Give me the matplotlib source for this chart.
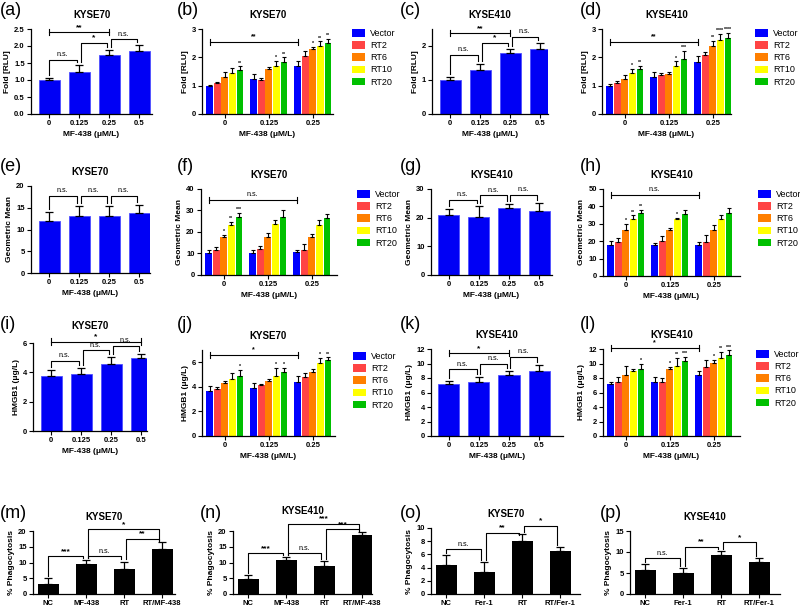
import numpy as np
import matplotlib
matplotlib.use('Agg')
import matplotlib.pyplot as plt
from matplotlib.patches import Patch

plt.rcParams['font.family'] = ['Liberation Sans', 'DejaVu Sans']
plt.rcParams['axes.linewidth'] = 0.9

# ---------------- data ----------------
doses4 = ['0', '0.125', '0.25', '0.5']
doses3 = ['0', '0.125', '0.25']
series = ['Vector', 'RT2', 'RT6', 'RT10', 'RT20']
series_colors = ['#0000FF', '#FF4444', '#FF7F00', '#FFFF00', '#00C000']
bar_blue = '#0000F5'

# single-series panels
a_mean = [1.00, 1.25, 1.75, 1.84]; a_err = [0.07, 0.18, 0.12, 0.19]
c_mean = [1.01, 1.28, 1.79, 1.91]; c_err = [0.09, 0.18, 0.13, 0.17]
e_mean = [11.9, 13.0, 13.2, 13.9]; e_err = [2.1, 2.3, 2.1, 1.7]
g_mean = [21.0, 20.4, 23.3, 22.4]; g_err = [2.1, 3.5, 1.3, 2.6]
i_mean = [3.75, 3.90, 4.60, 4.95]; i_err = [0.42, 0.42, 0.46, 0.32]
k_mean = [7.15, 7.50, 8.45, 8.90]; k_err = [0.45, 0.70, 0.55, 0.85]

# multi-series panels: rows = series (Vector, RT2, RT6, RT10, RT20), cols = doses
b_mean = [[1.00, 1.24, 1.70], [1.08, 1.20, 2.03], [1.30, 1.60, 2.29], [1.44, 1.71, 2.41], [1.56, 1.84, 2.49]]
b_err = [[0.04, 0.18, 0.16], [0.05, 0.06, 0.20], [0.20, 0.05, 0.08], [0.20, 0.17, 0.15], [0.12, 0.16, 0.15]]
b_sig = [['', '', ''], ['', '', ''], ['', '', '*'], ['', '*', '**'], ['**', '**', '**']]

d_mean = [[1.00, 1.29, 1.85], [1.09, 1.38, 2.07], [1.24, 1.41, 2.40], [1.44, 1.71, 2.61], [1.60, 1.95, 2.67]]
d_err = [[0.07, 0.18, 0.18], [0.08, 0.08, 0.13], [0.13, 0.09, 0.18], [0.15, 0.15, 0.22], [0.09, 0.27, 0.20]]
d_sig = [['', '', ''], ['', '', ''], ['', '', '**'], ['*', '*', '****'], ['**', '***', '****']]

f_mean = [[10.3, 10.3, 10.6], [11.8, 12.2, 11.8], [17.5, 17.5, 17.5], [23.4, 23.8, 23.4], [27.2, 27.2, 26.6]]
f_err = [[1.5, 1.5, 1.0], [1.0, 1.5, 2.5], [1.0, 2.0, 1.8], [1.2, 1.6, 2.3], [1.6, 3.0, 1.6]]
f_sig = [['', '', ''], ['', '', ''], ['*', '', ''], ['**', '', ''], ['***', '', '']]

h_mean = [[18.1, 17.7, 17.7], [19.6, 20.0, 19.6], [26.3, 26.3, 26.7], [32.5, 33.0, 32.5], [36.3, 35.4, 36.0]]
h_err = [[1.8, 1.0, 2.0], [2.3, 3.0, 4.0], [3.5, 1.5, 2.5], [2.3, 0.5, 2.3], [1.8, 2.5, 2.8]]
h_sig = [['', '', ''], ['', '', ''], ['*', '', ''], ['**', '*', ''], ['**', '', '']]

j_mean = [[3.70, 3.90, 4.42], [3.83, 4.18, 4.83], [4.30, 4.50, 5.23], [4.64, 4.90, 5.98], [4.85, 5.17, 6.19]]
j_err = [[0.40, 0.40, 0.50], [0.15, 0.05, 0.30], [0.20, 0.10, 0.20], [0.50, 0.65, 0.35], [0.55, 0.35, 0.20]]
j_sig = [['', '', ''], ['', '', ''], ['', '', ''], ['', '*', '*'], ['*', '*', '**']]

l_mean = [[7.15, 7.50, 8.43], [7.50, 7.50, 9.45], [8.43, 9.26, 10.1], [8.90, 9.72, 10.7], [9.20, 10.37, 11.2]]
l_err = [[0.35, 0.70, 0.50], [0.60, 0.50, 1.10], [1.20, 0.30, 0.40], [0.30, 1.00, 0.90], [0.80, 0.50, 0.60]]
l_sig = [['', '', ''], ['', '', ''], ['', '*', '*'], ['', '**', '**'], ['*', '***', '***']]

# phagocytosis panels
mn_groups = ['NC', 'MF-438', 'RT', 'RT/MF-438']
op_groups = ['NC', 'Fer-1', 'RT', 'RT/Fer-1']
m_mean = [3.3, 9.4, 7.8, 14.3]; m_err = [1.8, 1.3, 2.5, 2.2]
n_mean = [4.8, 10.8, 8.8, 18.6]; n_err = [1.2, 0.9, 1.6, 1.1]
o_mean = [4.4, 3.3, 8.1, 6.5]; o_err = [1.5, 1.5, 1.0, 0.6]
p_mean = [5.7, 5.0, 9.3, 7.6]; p_err = [1.5, 1.2, 0.9, 1.0]

# significance brackets: (i, j, level, text, style)
a_br = [(0, 1, 1.60, 'n.s.', 'leg'), (1, 2, 2.08, '*', 'leg'), (2, 3, 2.20, 'n.s.', 'leg'), (0, 2, 2.42, '**', 'span')]
c_br = [(0, 1, 1.75, 'n.s.', 'leg'), (1, 2, 2.09, '*', 'leg'), (2, 3, 2.26, 'n.s.', 'leg'), (0, 2, 2.38, '**', 'span')]
e_br = [(0, 1, 17.8, 'n.s.', 'leg'), (1, 2, 17.8, 'n.s.', 'leg'), (2, 3, 17.8, 'n.s.', 'leg')]
g_br = [(0, 1, 26.3, 'n.s.', 'leg'), (1, 2, 27.8, 'n.s.', 'leg'), (2, 3, 28.0, 'n.s.', 'leg')]
i_br = [(0, 1, 4.8, 'n.s.', 'leg'), (1, 2, 5.5, 'n.s.', 'leg'), (2, 3, 5.8, 'n.s.', 'leg'), (0, 3, 6.1, '*', 'span')]
k_br = [(0, 1, 9.2, 'n.s.', 'leg'), (1, 2, 10.0, 'n.s.', 'leg'), (2, 3, 10.9, 'n.s.', 'leg'), (0, 2, 11.4, '*', 'span')]
b_span = (2.53, '**'); d_span = (2.53, '**'); f_span = (34.9, 'n.s.')
h_span = (46.5, 'n.s.'); j_span = (6.57, '*'); l_span = (12.2, '*')
m_br = [(0, 1, 12.0, '***', 'leg'), (1, 2, 12.0, 'n.s.', 'leg'), (2, 3, 17.5, '**', 'leg'), (1, 3, 20.5, '*', 'leg')]
n_br = [(0, 1, 13.0, '***', 'leg'), (1, 2, 13.0, 'n.s.', 'leg'), (2, 3, 20.6, '***', 'leg'), (1, 3, 22.3, '***', 'leg')]
o_br = [(0, 1, 6.8, 'n.s.', 'leg'), (1, 2, 9.3, '**', 'leg'), (2, 3, 10.3, '*', 'leg')]
p_br = [(0, 1, 8.5, 'n.s.', 'leg'), (1, 2, 11.3, '**', 'leg'), (2, 3, 12.3, '*', 'leg')]

# ---------------- figure ----------------
W, H = 800, 610
fig = plt.figure(figsize=(W / 100, H / 100), dpi=100)


def add_ax(box):
    l, t, r, b = box
    return fig.add_axes([l / W, 1 - b / H, (r - l) / W, (b - t) / H])


def style_ax(ax, ylim, yticks, ylabels, ylabel, title, xlabel=None, tpad=8):
    ax.set_ylim(*ylim)
    ax.set_yticks(yticks)
    ax.set_yticklabels(ylabels)
    for s in ('top', 'right'):
        ax.spines[s].set_visible(False)
    ax.tick_params(axis='both', length=3, width=0.8, labelsize=5.5, pad=1.5)
    for lab in ax.get_xticklabels() + ax.get_yticklabels():
        lab.set_fontweight('bold')
    ax.set_ylabel(ylabel, fontsize=6, fontweight='bold', labelpad=2)
    ax.set_title(title, fontsize=7, fontweight='bold', pad=tpad)
    if xlabel:
        ax.set_xlabel(xlabel, fontsize=6, fontweight='bold', labelpad=3)


def sig_text(ax, x, y, text, fs=6):
    if text == 'n.s.':
        ax.text(x, y, text, ha='center', va='bottom', fontsize=5.2, clip_on=False)
    else:
        ax.text(x, y, text, ha='center', va='bottom', fontsize=fs, fontweight='bold', clip_on=False)


def draw_brackets(ax, brs, means, errs, ymax):
    gap = 0.035 * ymax
    for (i, j, lev, txt, sty) in brs:
        if sty == 'span':
            cap = 0.035 * ymax
            ax.plot([i, j], [lev, lev], color='k', lw=0.8, clip_on=False)
            ax.plot([i, i], [lev - cap, lev + cap], color='k', lw=0.8, clip_on=False)
            ax.plot([j, j], [lev - cap, lev + cap], color='k', lw=0.8, clip_on=False)
            sig_text(ax, (i + j) / 2, lev + 0.01 * ymax, txt)
        else:
            x1 = i + (0.05 if i > 0 else 0.0)
            x2 = j - 0.08
            lo1 = min(means[i] + errs[i] + gap, lev - 0.03 * ymax)
            lo2 = min(means[j] + errs[j] + gap, lev - 0.03 * ymax)
            ax.plot([x1, x1, x2, x2], [lo1, lev, lev, lo2], color='k', lw=0.8, clip_on=False)
            sig_text(ax, (x1 + x2) / 2, lev + 0.02 * ymax, txt)


def single_panel(box, means, errs, ylim, yticks, ylabels, ylabel, title, brs,
                 xlabel='MF-438 (\u03bcM/L)', tpad=8):
    ax = add_ax(box)
    wpx = box[2] - box[0]
    x = np.arange(len(means))
    ax.bar(x, means, width=0.7, color=bar_blue, edgecolor='#4F4FFF', linewidth=0.6, zorder=2)
    ax.errorbar(x, means, yerr=[np.zeros(len(errs)), errs], fmt='none', ecolor='k',
                elinewidth=0.9, capsize=3, capthick=0.9, zorder=3)
    ax.set_xlim(-0.6, -0.6 + wpx / 30.0)
    ax.set_xticks(x)
    ax.set_xticklabels(doses4)
    style_ax(ax, ylim, yticks, ylabels, ylabel, title, xlabel, tpad)
    draw_brackets(ax, brs, means, errs, ylim[1])
    return ax


def multi_panel(box, means, errs, sigs, ylim, yticks, ylabels, ylabel, title, span, legend_xy,
                xlabel='MF-438 (\u03bcM/L)'):
    ax = add_ax(box)
    wpx = box[2] - box[0]
    x = np.arange(len(doses3))
    step = 0.172
    for k in range(len(series)):
        xs = x + (k - 2) * step
        ax.bar(xs, means[k], width=0.155, color=series_colors[k], zorder=2)
        ax.errorbar(xs, means[k], yerr=[np.zeros(3), errs[k]], fmt='none', ecolor='k',
                    elinewidth=0.8, capsize=1.5, capthick=0.8, zorder=3)
        for g in range(3):
            if sigs[k][g]:
                ax.text(xs[g], means[k][g] + errs[k][g] + 0.01 * ylim[1], sigs[k][g],
                        ha='center', va='bottom', fontsize=3.8, fontweight='bold', clip_on=False)
    ax.set_xlim(-0.52, -0.52 + wpx / 44.0)
    ax.set_xticks(x)
    ax.set_xticklabels(doses3)
    style_ax(ax, ylim, yticks, ylabels, ylabel, title, xlabel)
    lev, txt = span
    x1, x2 = -2 * step, 2 - 2 * step
    cap = 0.035 * ylim[1]
    ax.plot([x1, x2], [lev, lev], color='k', lw=0.8, clip_on=False)
    ax.plot([x1, x1], [lev - cap, lev + cap], color='k', lw=0.8, clip_on=False)
    ax.plot([x2, x2], [lev - cap, lev + cap], color='k', lw=0.8, clip_on=False)
    sig_text(ax, 1 - 2 * step, lev + 0.02 * ylim[1], txt, fs=5)
    handles = [Patch(facecolor=c, edgecolor='none') for c in series_colors]
    fig.legend(handles, series, loc='upper left', bbox_to_anchor=(legend_xy[0] / W, 1 - legend_xy[1] / H),
               frameon=False, fontsize=6.5, handlelength=1.4, handleheight=0.9, labelspacing=0.35,
               handletextpad=0.6, borderpad=0, borderaxespad=0)
    return ax


def phago_panel(box, groups, means, errs, ylim, yticks, ylabels, title, brs, tpad=8):
    ax = add_ax(box)
    wpx = box[2] - box[0]
    x = np.arange(len(means))
    ax.bar(x, means, width=0.55, color='black', zorder=2)
    ax.errorbar(x, means, yerr=[np.zeros(len(errs)), errs], fmt='none', ecolor='k',
                elinewidth=0.9, capsize=3, capthick=0.9, zorder=3)
    ax.set_xlim(-0.4, -0.4 + wpx / 38.0)
    ax.set_xticks(x)
    ax.set_xticklabels(groups)
    style_ax(ax, ylim, yticks, ylabels, '% Phagocytosis', title, tpad=tpad)
    draw_brackets(ax, brs, means, errs, ylim[1])
    return ax


# Row 1
single_panel((31, 29, 152, 114), a_mean, a_err, (0, 2.5), [0, 0.5, 1, 1.5, 2, 2.5],
             ['0.0', '0.5', '1.0', '1.5', '2.0', '2.5'], 'Fold [RLU]', 'KYSE70', a_br)
multi_panel((202, 29, 333, 114), b_mean, b_err, b_sig, (0, 3), [0, 1, 2, 3], ['0', '1', '2', '3'],
            'Fold [RLU]', 'KYSE70', b_span, (352, 29))
single_panel((432, 29, 548, 114), c_mean, c_err, (0, 2.5), [0, 1, 2], ['0', '1', '2'],
             'Fold [RLU]', 'KYSE410', c_br)
multi_panel((602, 29, 731, 114), d_mean, d_err, d_sig, (0, 3), [0, 1, 2, 3], ['0', '1', '2', '3'],
            'Fold [RLU]', 'KYSE410', d_span, (755, 29))

# Row 2
single_panel((31, 186, 150, 273), e_mean, e_err, (0, 20), [0, 5, 10, 15, 20],
             ['0', '5', '10', '15', '20'], 'Geometric Mean', 'KYSE70', e_br)
multi_panel((201, 189, 337, 275), f_mean, f_err, f_sig, (0, 40), [0, 10, 20, 30, 40],
            ['0', '10', '20', '30', '40'], 'Geometric Mean', 'KYSE70', f_span, (357, 190))
single_panel((431, 189, 552, 275), g_mean, g_err, (0, 30), [0, 10, 20, 30],
             ['0', '10', '20', '30'], 'Geometric Mean', 'KYSE410', g_br)
multi_panel((603, 189, 740, 276), h_mean, h_err, h_sig, (0, 50), [0, 10, 20, 30, 40, 50],
            ['0', '10', '20', '30', '40', '50'], 'Geometric Mean', 'KYSE410', h_span, (758, 190))

# Row 3
single_panel((33, 343, 147, 431), i_mean, i_err, (0, 6), [0, 2, 4, 6], ['0', '2', '4', '6'],
             'HMGB1 (\u03bcg/L)', 'KYSE70', i_br, tpad=10)
multi_panel((202, 350, 335, 436), j_mean, j_err, j_sig, (0, 7), [0, 2, 4, 6], ['0', '2', '4', '6'],
            'HMGB1 (\u03bcg/L)', 'KYSE70', j_span, (353, 352))
single_panel((431, 349, 563, 436), k_mean, k_err, (0, 12), [0, 2, 4, 6, 8, 10, 12],
             ['0', '2', '4', '6', '8', '10', '12'], 'HMGB1 (\u03bcg/L)', 'KYSE410', k_br)
multi_panel((603, 349, 740, 436), l_mean, l_err, l_sig, (0, 12), [0, 2, 4, 6, 8, 10, 12],
            ['0', '2', '4', '6', '8', '10', '12'], 'HMGB1 (\u03bcg/L)', 'KYSE410', l_span, (756, 350))

# Row 4
phago_panel((33, 531, 175, 594), mn_groups, m_mean, m_err, (0, 20), [0, 5, 10, 15, 20],
            ['0', '5', '10', '15', '20'], 'KYSE70', m_br)
phago_panel((233, 531, 372, 594), mn_groups, n_mean, n_err, (0, 20), [0, 5, 10, 15, 20],
            ['0', '5', '10', '15', '20'], 'KYSE410', n_br, tpad=12)
phago_panel((431, 528, 580, 594), op_groups, o_mean, o_err, (0, 10), [0, 2, 4, 6, 8, 10],
            ['0', '2', '4', '6', '8', '10'], 'KYSE70', o_br)
phago_panel((630, 531, 780, 594), op_groups, p_mean, p_err, (0, 15), [0, 5, 10, 15],
            ['0', '5', '10', '15'], 'KYSE410', p_br)

# panel letters
letters = [('(a)', 0, 2), ('(b)', 177, 2), ('(c)', 400, 2), ('(d)', 580, 2),
           ('(e)', 0, 158), ('(f)', 177, 158), ('(g)', 400, 158), ('(h)', 580, 158),
           ('(i)', 0, 316), ('(j)', 177, 316), ('(k)', 400, 316), ('(l)', 580, 316),
           ('(m)', 0, 505), ('(n)', 200, 505), ('(o)', 400, 505), ('(p)', 600, 505)]
for t, px, py in letters:
    fig.text(px / W, 1 - py / H, t, fontsize=13, ha='left', va='top')

fig.savefig('out.png', dpi=100)
